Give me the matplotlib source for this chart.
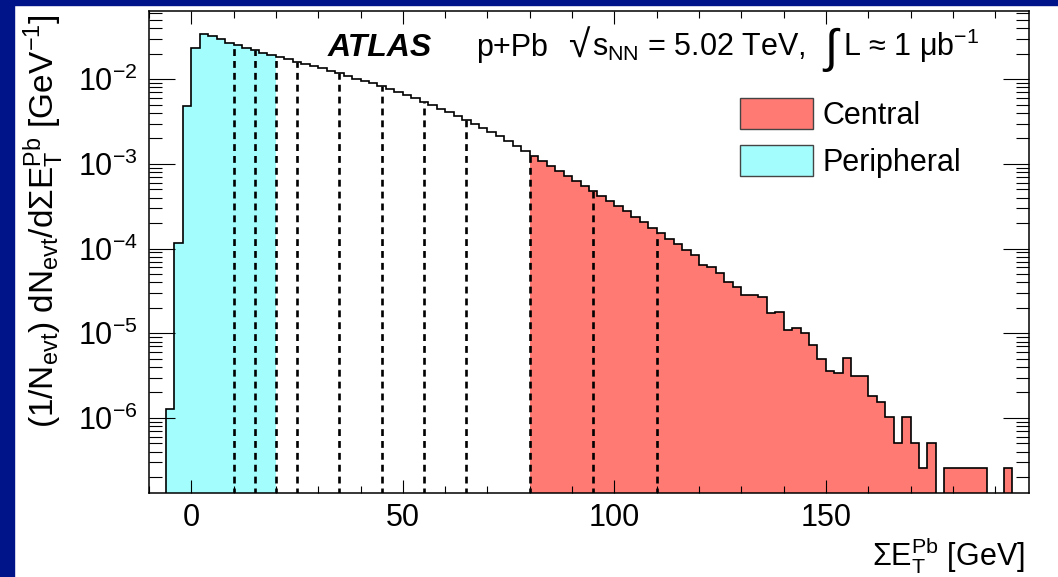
import numpy as np
import matplotlib.pyplot as plt
from matplotlib.patches import Patch, Rectangle
from matplotlib.ticker import MultipleLocator, LogLocator, NullFormatter

plt.rcParams['font.family'] = ['Liberation Sans', 'DejaVu Sans']
plt.rcParams['mathtext.fontset'] = 'custom'
plt.rcParams['mathtext.rm'] = 'Liberation Sans'
plt.rcParams['mathtext.it'] = 'Liberation Sans:italic'
plt.rcParams['mathtext.bf'] = 'Liberation Sans:bold'

# --- data: (1/Nevt) dN/dSumEt per 2 GeV bin, first bin starts at -6 GeV ---
bin_start = -6
bin_width = 2
density = [
    1.27e-6, 1.18e-4, 4.84e-3, 2.32e-2, 3.40e-2, 3.24e-2, 2.96e-2, 2.70e-2,
    2.52e-2, 2.36e-2, 2.20e-2, 2.06e-2, 1.95e-2, 1.82e-2, 1.72e-2, 1.61e-2,
    1.53e-2, 1.45e-2, 1.35e-2, 1.25e-2, 1.17e-2, 1.09e-2, 1.02e-2, 9.55e-3,
    8.92e-3, 8.22e-3, 7.58e-3, 6.98e-3, 6.44e-3, 5.93e-3, 5.40e-3, 4.91e-3,
    4.46e-3, 4.06e-3, 3.69e-3, 3.30e-3, 2.96e-3, 2.66e-3, 2.39e-3, 2.11e-3,
    1.87e-3, 1.65e-3, 1.44e-3, 1.24e-3, 1.08e-3, 9.46e-4, 8.26e-4, 7.21e-4,
    6.30e-4, 5.50e-4, 4.80e-4, 4.19e-4, 3.66e-4, 3.19e-4, 2.75e-4, 2.37e-4,
    2.04e-4, 1.75e-4, 1.51e-4, 1.30e-4, 1.12e-4, 9.66e-5, 8.43e-5, 6.43e-5,
    6.13e-5, 5.21e-5, 4.07e-5, 3.50e-5, 2.84e-5, 2.84e-5, 2.67e-5, 1.75e-5,
    1.80e-5, 1.10e-5, 1.15e-5, 1.00e-5, 7.29e-6, 4.94e-6, 3.63e-6, 3.38e-6,
    5.16e-6, 3.14e-6, 3.14e-6, 1.82e-6, 1.56e-6, 1.04e-6, 5.1e-7, 1.04e-6,
    5.1e-7, 2.55e-7, 5.1e-7, 0, 2.55e-7, 2.55e-7, 2.55e-7, 2.55e-7,
    2.55e-7, 0, 0, 2.55e-7, 0,
]
cuts = [10, 15, 20, 25, 35, 45, 55, 65, 80, 95, 110]
peripheral_range = (-6, 20)
central_range = (80, 196)

cyan = '#a3fdfd'
salmon = '#ff7a73'
slide_blue = '#001489'

vals = np.array(density)
edges = bin_start + bin_width * np.arange(len(vals) + 1)
floor = 1e-9
plot_vals = np.where(vals > 0, vals, floor)

fig = plt.figure(figsize=(10.58, 5.77), dpi=100)
fig.patches.append(Rectangle((0, 0), 14 / 1058, 1, transform=fig.transFigure,
                             color=slide_blue, zorder=0))
fig.patches.append(Rectangle((0, 1 - 5 / 577), 1, 5 / 577, transform=fig.transFigure,
                             color=slide_blue, zorder=0))

ax = fig.add_axes([149 / 1058, 1 - 493 / 577, 880 / 1058, 482 / 577])
ax.set_yscale('log')

# filled regions
for (lo, hi), col in [(peripheral_range, cyan), (central_range, salmon)]:
    i0 = np.searchsorted(edges, lo)
    i1 = np.searchsorted(edges, hi)
    ax.stairs(plot_vals[i0:i1], edges[i0:i1 + 1], baseline=floor, fill=True,
              color=col, lw=0, zorder=1)

# centrality boundaries
idx = np.searchsorted(edges, cuts, side='right') - 1
ax.vlines(cuts, floor, plot_vals[idx], colors='black', linestyles=(0, (2.6, 1.9)),
          lw=1.9, zorder=2)

# outline
ax.stairs(plot_vals, edges, baseline=floor, color='black', lw=1.2, zorder=3)

ax.set_xlim(-10, 198)
ax.set_ylim(1.3e-7, 0.064)
ax.set_xticks([0, 50, 100, 150])
ax.xaxis.set_minor_locator(MultipleLocator(10))
ax.yaxis.set_minor_locator(LogLocator(subs=np.arange(2, 10), numticks=100))
ax.yaxis.set_minor_formatter(NullFormatter())
ax.tick_params(which='both', direction='in', top=True, right=True, width=0.8,
               labelsize=22)
ax.tick_params(axis='y', which='major', length=18.7, pad=8)
ax.tick_params(axis='y', which='minor', length=9.4)
ax.tick_params(axis='x', which='major', length=9.4, pad=7)
ax.tick_params(axis='x', which='minor', length=5)
for s in ax.spines.values():
    s.set_linewidth(1.1)

# labels
def px(x):
    return (x - 149) / 880

base_y = (493 - 56) / 482
ax.text(px(328), base_y, 'ATLAS', transform=ax.transAxes, fontsize=23,
        fontweight='bold', fontstyle='italic', va='baseline')
ax.text(px(476), base_y, 'p+Pb', transform=ax.transAxes, fontsize=22, va='baseline')
ax.text(px(568), (493 - 58) / 482, '√', transform=ax.transAxes, fontsize=28,
        va='baseline')
ax.text(px(592), base_y, r's$_{\mathrm{NN}}$ = 5.02 TeV,',
        transform=ax.transAxes, fontsize=22, va='baseline')
ax.text(px(824), (493 - 62) / 482, '∫', transform=ax.transAxes, fontsize=34,
        va='baseline')
ax.text(px(843), base_y, r'L ≈ 1 μb$^{-1}$',
        transform=ax.transAxes, fontsize=22, va='baseline')

ax.text(px(1025), (493 - 565) / 482, r'$\Sigma\mathrm{E}_{\mathrm{T}}^{\mathrm{Pb}}$ [GeV]',
        transform=ax.transAxes, fontsize=22, ha='right', va='baseline')
fig.text(0.0416, 0.617,
         r'(1/$\mathrm{N}_{\mathrm{evt}}$) d$\mathrm{N}_{\mathrm{evt}}$/d$\Sigma\mathrm{E}_{\mathrm{T}}^{\mathrm{Pb}}$ [$\mathrm{GeV}^{-1}$]',
         rotation=90, ha='center', va='center', fontsize=24)

handles = [Patch(facecolor=salmon, edgecolor='#444444', lw=1, label='Central'),
           Patch(facecolor=cyan, edgecolor='#444444', lw=1, label='Peripheral')]
ax.legend(handles=handles, loc='upper left', bbox_to_anchor=(px(740), (493 - 98) / 482),
          frameon=False, fontsize=22, handlelength=2.4, handleheight=1.2,
          handletextpad=0.3, labelspacing=0.45, borderpad=0, borderaxespad=0)

fig.savefig('out.png', dpi=100)
